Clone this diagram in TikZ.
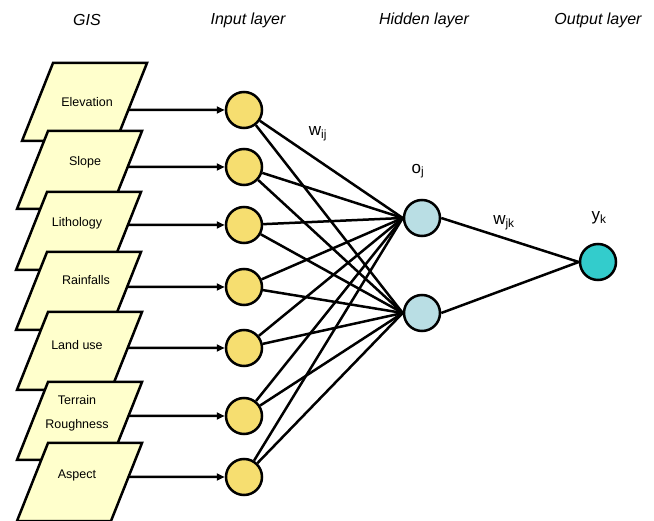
\documentclass[tikz,border=0pt]{standalone}
\usepackage{fontspec}
\setmainfont{Liberation Sans}
\usetikzlibrary{calc,arrows.meta}
\definecolor{gisfill}{RGB}{255,255,204}
\definecolor{incol}{RGB}{246,222,112}
\definecolor{hidcol}{RGB}{185,222,228}
\definecolor{outcol}{RGB}{51,204,204}

\begin{document}
\begin{tikzpicture}[x=1pt,y=-1pt,
    gis/.style={draw,line width=2.5pt,fill=gisfill},
    gistext/.style={font=\fontsize{12.5}{24}\selectfont,align=center,inner sep=0pt},
    head/.style={font=\fontsize{16}{18}\selectfont\itshape},
    unit/.style={circle,draw,line width=2.5pt,minimum size=36pt,inner sep=0pt},
    link/.style={line width=2.5pt},
    feed/.style={line width=2.5pt,-{Triangle[length=8pt,width=7pt]}},
    wlabel/.style={font=\fontsize{17}{18}\selectfont,inner sep=0pt}]
  \useasboundingbox (0,0) rectangle (654,521);
  \node[head] (hgis) at (87,20) {GIS};
  \node[head] (hin) at (248,20) {Input layer};
  \node[head] (hhid) at (424,20) {Hidden layer};
  \node[head] (hout) at (598,20) {Output layer};
  \foreach \nm/\txt/\tx/\ty/\lx/\ly/\cy in {
      elev/Elevation/53/63/87/102/110,
      slope/Slope/48/131/85/162/167,
      lith/Lithology/47/192/77/223/225,
      rain/Rainfalls/47/252/86/280/287,
      land/Land use/48/312/77/345/348,
      terr/{Terrain\\Roughness}/48/382/77/413/416,
      asp/Aspect/48/443/77/475/477} {
    \draw[gis] (\tx,\ty) -- ++(94,0) -- ++(-31,78) -- ++(-94,0) -- cycle;
    \node[gistext] (\nm) at (\lx,\ly) {\txt};
    \coordinate (\nm-out) at ($(\tx+94,\ty)!{(\cy-\ty)/78}!(\tx+63,\ty+78)$);
  }
  \foreach \y [count=\k] in {110,167,225,287,348,416,477}
    \node[unit,fill=incol] (i\k) at (244,\y) {};
  \node[unit,fill=hidcol] (h1) at (422,218) {};
  \node[unit,fill=hidcol] (h2) at (422,313) {};
  \node[unit,fill=outcol] (yk) at (598,262) {};
  \foreach \nm [count=\k] in {elev,slope,lith,rain,land,terr,asp}
    \draw[feed] (\nm-out) -- (i\k);
  \foreach \k in {1,...,7}
    \foreach \h in {1,2}
      \draw[link] (i\k) -- (h\h.west);
  \draw[link] (h1.east) -- (yk.west);
  \draw[link] (h2.east) -- (yk.west);
  \node[wlabel] (wij) at (318,134) {w\textsubscript{ij}};
  \node[wlabel] (oj) at (418,171) {o\textsubscript{j}};
  \node[wlabel] (wjk) at (504,223) {w\textsubscript{jk}};
  \node[wlabel] (ylab) at (599,218) {y\textsubscript{k}};
\end{tikzpicture}
\end{document}
